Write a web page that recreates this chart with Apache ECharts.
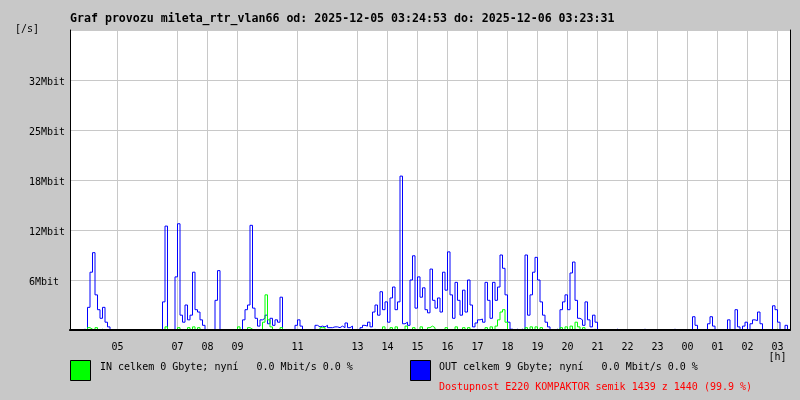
<!DOCTYPE html>
<html><head><meta charset="utf-8">
<script src="https://cdn.jsdelivr.net/npm/echarts@6/dist/echarts.min.js"></script>
<style>html,body{margin:0;padding:0;background:#c8c8c8}#c{width:800px;height:400px}</style>
</head><body><div id="c"></div>
<script>
const titleText = 'Graf provozu mileta_rtr_vlan66 od: 2025-12-05 03:24:53 do: 2025-12-06 03:23:31';
const yUnitText = '[/s]';
const xUnitText = '[h]';
// x axis: 5-minute samples starting 03:25 (index 0) to 03:25 next day (index 288)
const sampleCount = 289;
const hourLabels = ['05','07','08','09','11','13','14','15','16','17','18','19','20','21','22','23','00','01','02','03'];
const hourIndex  = [19, 43, 55, 67, 91, 115, 127, 139, 151, 163, 175, 187, 199, 211, 223, 235, 247, 259, 271, 283];
const yTickLabels = ['', '6Mbit', '12Mbit', '18Mbit', '25Mbit', '32Mbit', ''];
const yStep = 6.4;
const yMax = 38.4;
// [sample index, Mbit/s]
const inSamples = [
[7,0.3],[8,0.1],[10,0.3],[12,0.1],[38,0.4],[43,0.3],[47,0.3],[49,0.4],[51,0.3],[67,0.4],[71,0.3],[72,0.1],
[77,1.0],[78,4.5],[79,1.3],[80,0.4],[84,0.3],[100,0.3],[101,0.3],[121,0.1],[125,0.4],[128,0.3],[130,0.4],
[134,0.5],[137,0.3],[140,0.4],[143,0.3],[144,0.5],[145,0.3],[150,0.3],[154,0.4],[157,0.3],[159,0.3],[166,0.3],
[168,0.4],[170,0.5],[171,1.3],[172,2.3],[173,2.6],[174,1.0],[182,0.3],[184,0.4],[186,0.4],[188,0.3],[196,0.3],
[198,0.4],[200,0.5],[202,1.0],[203,0.4],[205,0.3],[209,0.1],[282,0.1]
];
const outSamples = [
[5,0.1],[7,2.9],[8,7.4],[9,9.9],[10,4.5],[11,2.6],[12,1.5],[13,2.9],[14,1.0],[15,0.4],
[37,3.6],[38,13.3],
[42,6.8],[43,13.6],[44,1.9],[45,1.0],[46,3.2],[47,1.3],[48,1.9],[49,7.4],[50,2.6],[51,2.3],[52,1.3],[53,0.6],
[58,3.8],[59,7.6],
[69,1.3],[70,2.6],[71,3.2],[72,13.4],[73,2.8],[74,1.5],[75,0.5],[76,1.3],[77,1.5],[78,1.9],[79,0.8],[80,1.5],[81,0.6],[82,1.3],[83,1.0],[84,4.2],
[90,0.6],[91,1.3],[92,0.5],
[98,0.6],[99,0.4],[100,0.5],[101,0.4],[102,0.6],[103,0.3],[104,0.3],[105,0.4],[106,0.4],[107,0.3],[108,0.5],[109,0.3],[110,0.9],[111,0.3],[112,0.5],
[116,0.3],[117,0.6],[118,0.5],[119,1.0],[120,0.4],[121,2.3],[122,3.2],[123,1.9],[124,4.9],[125,2.6],[126,3.6],[127,1.0],[128,4.1],[129,5.5],[130,2.6],[131,3.6],[132,19.7],[133,0.8],[134,1.0],[135,0.6],[136,6.4],[137,9.5],[138,2.8],[139,6.8],[140,4.2],[141,5.4],[142,2.6],[143,2.2],
[144,7.8],[145,3.8],[146,2.8],[147,4.1],[148,2.3],[149,7.4],[150,5.1],[151,10.0],[152,4.5],[153,1.5],[154,6.1],[155,3.8],[156,1.9],[157,5.1],[158,2.3],[159,6.4],[160,3.2],[161,0.4],[162,0.9],[163,1.3],[164,1.4],[165,1.0],[166,6.1],[167,3.8],[168,1.5],[169,6.1],[170,3.8],[171,5.5],[172,9.6],[173,7.9],[174,4.5],[175,1.0],[176,0.1],[178,0.1],[180,0.1],
[182,9.6],[183,1.9],[184,4.5],[185,7.4],[186,9.3],[187,6.4],[188,3.6],[189,1.9],[190,1.0],[191,0.4],[194,0.1],
[196,2.6],[197,3.6],[198,4.5],[199,2.6],[200,7.3],[201,8.7],[202,3.8],[203,1.5],[204,1.3],[205,0.6],[206,3.6],[207,1.3],[208,0.4],[209,1.9],[210,1.0],
[218,0.1],[229,0.1],[241,0.1],
[249,1.7],[250,0.6],[255,0.8],[256,1.7],[257,0.5],[263,1.3],[266,2.6],[267,0.4],[269,0.5],[270,1.0],[272,0.8],[273,1.3],[274,1.2],[275,2.3],[276,0.8],[281,3.1],[282,2.6],[283,1.0],[286,0.6]
];
const legendInText = 'IN celkem 0 Gbyte; nyní   0.0 Mbit/s 0.0 %';
const legendOutText = 'OUT celkem 9 Gbyte; nyní   0.0 Mbit/s 0.0 %';
const availText = 'Dostupnost E220 KOMPAKTOR semik 1439 z 1440 (99.9 %)';

const categories = [];
for (let i = 0; i < sampleCount; i++) {
  const k = hourIndex.indexOf(i);
  categories.push(k >= 0 ? hourLabels[k] : '');
}
function toSeries(samples) {
  const arr = new Array(sampleCount).fill(0);
  samples.forEach(s => { arr[s[0]] = s[1]; });
  return arr;
}
const FONT = '"DejaVu Sans Mono", "Liberation Mono", monospace';
const isTick = (idx, val) => val !== '';

const chart = echarts.init(document.getElementById('c'), null, {renderer: 'canvas'});
chart.setOption({
  backgroundColor: '#c8c8c8',
  animation: false,
  grid: {left: 70, top: 30, width: 720, height: 300, show: true, backgroundColor: '#ffffff', borderWidth: 0},
  xAxis: [{
    type: 'category', data: categories, boundaryGap: false, position: 'bottom',
    axisLine: {show: false},
    axisTick: {show: false},
    axisLabel: {interval: isTick, color: '#000', fontFamily: FONT, fontSize: 10, lineHeight: 10, margin: 12,
      formatter: v => v === hourLabels[hourLabels.length - 1] ? v + '\n' + xUnitText : v},
    splitLine: {show: true, interval: isTick, lineStyle: {color: '#c8c8c8', width: 1}}
  }, {
    type: 'category', data: categories, boundaryGap: false, position: 'top',
    axisLine: {show: true, lineStyle: {color: '#000', width: 1}},
    axisTick: {show: false}, axisLabel: {show: false}, splitLine: {show: false}
  }, {
    type: 'category', data: categories, boundaryGap: false, position: 'bottom', offset: 0, z: 10,
    axisLine: {show: true, lineStyle: {color: '#000', width: 2}},
    axisTick: {show: false}, axisLabel: {show: false}, splitLine: {show: false}
  }],
  yAxis: [{
    type: 'value', min: 0, max: yMax, interval: yStep, position: 'left',
    axisLine: {show: true, lineStyle: {color: '#000', width: 1}},
    axisTick: {show: false},
    axisLabel: {align: 'left', verticalAlign: 'top', lineHeight: 4, margin: 41, color: '#000', fontFamily: FONT, fontSize: 10,
      formatter: v => yTickLabels[Math.round(v / yStep)] || ''},
    splitLine: {show: true, lineStyle: {color: '#c8c8c8', width: 1}}
  }, {
    type: 'value', min: 0, max: yMax, interval: yStep, position: 'right',
    axisLine: {show: true, lineStyle: {color: '#000', width: 1}},
    axisTick: {show: false}, axisLabel: {show: false}, splitLine: {show: false}
  }],
  series: [{
    name: 'OUT', type: 'line', step: 'end', data: toSeries(outSamples), symbol: 'none',
    lineStyle: {color: '#0000ff', width: 1}, z: 2
  }, {
    name: 'IN', type: 'line', step: 'end', data: toSeries(inSamples), symbol: 'none',
    lineStyle: {color: '#00ff00', width: 1}, z: 3
  }],
  graphic: [
    {type: 'text', x: 70, y: 19, style: {text: titleText, fill: '#000', fontFamily: FONT, fontSize: 11.6, fontWeight: 'bold', verticalAlign: 'middle'}},
    {type: 'text', x: 15, y: 29, style: {text: yUnitText, fill: '#000', fontFamily: FONT, fontSize: 10, verticalAlign: 'middle'}},
    {type: 'rect', shape: {x: 70.5, y: 360.5, width: 20, height: 20}, style: {fill: '#00ff00', stroke: '#000', lineWidth: 1}},
    {type: 'text', x: 100, y: 367, style: {text: legendInText, fill: '#000', fontFamily: FONT, fontSize: 10, verticalAlign: 'middle'}},
    {type: 'rect', shape: {x: 410.5, y: 360.5, width: 20, height: 20}, style: {fill: '#0000ff', stroke: '#000', lineWidth: 1}},
    {type: 'text', x: 439, y: 367, style: {text: legendOutText, fill: '#000', fontFamily: FONT, fontSize: 10, verticalAlign: 'middle'}},
    {type: 'text', x: 439, y: 387, style: {text: availText, fill: '#ff0000', fontFamily: FONT, fontSize: 10, verticalAlign: 'middle'}}
  ]
});
</script>
</body></html>
